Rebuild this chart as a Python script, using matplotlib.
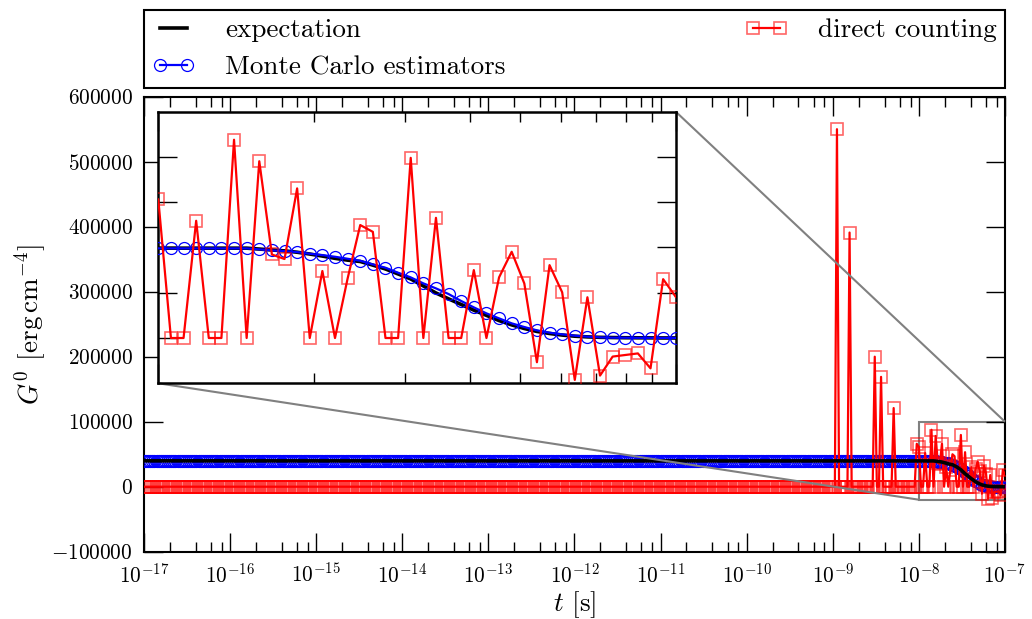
import numpy as np
import matplotlib
matplotlib.use("Agg")
import matplotlib.pyplot as plt
from matplotlib.ticker import LogLocator, ScalarFormatter, NullFormatter
from mpl_toolkits.axes_grid1.inset_locator import mark_inset

plt.rcParams.update({
    "font.family": "serif",
    "font.serif": ["cmr10"],
    "mathtext.fontset": "cm",
    "axes.formatter.use_mathtext": True,
    "axes.unicode_minus": True,
})

# time grid: 41 samples per decade from 1e-17 s to 1e-7 s
t = np.logspace(-17, -7, 411)
TAIL_START = 369  # index of t = 1e-8 s

# expectation: flat level, then the drop between 1e-8 and 1e-7 s
expect_flat = 39800
expect_tail = [39700, 39700, 39700, 39700, 39700, 39700, 39700, 39700,
               39300, 38900, 38500, 37900, 37100, 36200, 35200, 34400,
               33800, 32200, 30500, 28300, 26100, 23000, 19900, 17300,
               14800, 12300, 10000, 7700, 5800, 4200, 2900, 2000,
               1300, 800, 500, 300, 200, 120, 80, 60, 40, 30]

# Monte Carlo estimators
mc_flat = 39800
mc_tail = [39600, 39600, 39600, 39600, 39600, 39600, 39600, 39600,
           39150, 38710, 38410, 37970, 37230, 36650, 35900, 35020,
           34140, 32520, 31050, 28840, 26780, 24140, 21930, 19430,
           16340, 13540, 10890, 8680, 6480, 4860, 3390, 2360,
           1620, 1030, 590, 290, 150, 100, 80, 60, 50, 40]

# direct counting: zero almost everywhere, a few isolated hits before 1e-8 s
spike_idx = [330, 336, 348, 351, 357, 368]
spike_val = [550000, 391000, 200000, 169000, 121000, 66000]
direct_tail = [61200, 0, 0, 51800, 0, 0, 87600, 0, 78100, 36900, 34900,
               66100, 0, 29600, 0, 26300, 49900, 46900, 0, 0, 79600, 0,
               53100, 0, 0, 30000, 0, 26800, 38100, 24100, -10700, 32200,
               20200, -18500, 18000, -16600, -8200, -7500, -6800, -13400,
               26000, 18200]

yticks_main = [-100000, 0, 100000, 200000, 300000, 400000, 500000, 600000]
yticks_inset = [0, 20000, 40000, 60000, 80000]

# assemble full series on the time grid
expectation = np.full(t.size, float(expect_flat))
expectation[TAIL_START:] = expect_tail
mc = np.full(t.size, float(mc_flat))
mc[TAIL_START:] = mc_tail
direct = np.zeros(t.size)
direct[spike_idx] = spike_val
direct[TAIL_START:] = direct_tail

red_edge = (1.0, 0.0, 0.0, 0.6)


def draw_series(axis, on_top_black):
    h_exp, = axis.plot(t, expectation, color="k", lw=2.6,
                       zorder=5 if on_top_black else 2, label="expectation")
    h_mc, = axis.plot(t, mc, color="b", lw=1.6, marker="o", ms=8.6,
                      mfc="none", mec="b", mew=0.9, zorder=3,
                      label="Monte Carlo estimators")
    h_dc, = axis.plot(t, direct, color="r", lw=1.6, marker="s", ms=8.6,
                      mfc="none", mec=red_edge, mew=1.2, zorder=4,
                      label="direct counting")
    return h_exp, h_mc, h_dc


fig = plt.figure(figsize=(10.32, 6.19), dpi=100)
ax = fig.add_axes([0.1395, 0.1087, 0.8343, 0.7351])
handles = draw_series(ax, True)

ax.set_xscale("log")
ax.set_xlim(1e-17, 1e-7)
ax.set_ylim(-100000, 600000)
ax.set_yticks(yticks_main)
fmt = ScalarFormatter(useOffset=False)
fmt.set_scientific(False)
ax.yaxis.set_major_formatter(fmt)
ax.xaxis.set_major_locator(LogLocator(base=10, numticks=30))
ax.xaxis.set_minor_locator(LogLocator(base=10, subs=[2, 4, 6, 8], numticks=200))
ax.xaxis.set_minor_formatter(NullFormatter())
ax.tick_params(which="major", direction="in", length=14, width=1.0,
               top=True, right=True, labelsize=15.3, pad=8)
ax.tick_params(which="minor", direction="in", length=7, width=1.0,
               top=True, right=True)
for sp in ax.spines.values():
    sp.set_linewidth(1.5)

ax.set_xlabel(r"$t$ [s]", fontsize=19.5, labelpad=2)
ax.set_ylabel(r"$G^0$ [erg$\,$cm$^{-4}$]", fontsize=19.5, labelpad=2)

ax.legend(handles=[handles[0], handles[1], handles[2]], ncol=2,
          loc="lower left", bbox_to_anchor=(0, 1.019, 1, 0.176),
          mode="expand", borderaxespad=0, fontsize=19.5, numpoints=2,
          handlelength=1.6, handletextpad=1.1, fancybox=False, framealpha=1,
          edgecolor="k", labelspacing=0.5, borderpad=0.3)
ax.get_legend().get_frame().set_linewidth(1.5)

# zoomed view of the late-time drop
axins = fig.add_axes([0.1534, 0.3808, 0.5014, 0.4388])
axins.set_facecolor("white")
axins.set_zorder(10)
draw_series(axins, False)
axins.set_xscale("log")
axins.set_xlim(1e-8, 1e-7)
axins.set_ylim(-20000, 100000)
axins.set_yticks(yticks_inset)
axins.xaxis.set_minor_locator(LogLocator(base=10, subs=np.arange(2, 10), numticks=50))
axins.tick_params(which="both", direction="in", top=True, right=True,
                  labelbottom=False, labelleft=False)
axins.tick_params(which="major", length=14, width=1.0)
axins.tick_params(which="minor", length=7, width=1.0)
axins.xaxis.set_minor_formatter(NullFormatter())
for sp in axins.spines.values():
    sp.set_linewidth(1.8)

mark_inset(ax, axins, loc1=1, loc2=3, fc="none", ec="0.5", lw=1.5)

fig.savefig("out.png", dpi=100)
